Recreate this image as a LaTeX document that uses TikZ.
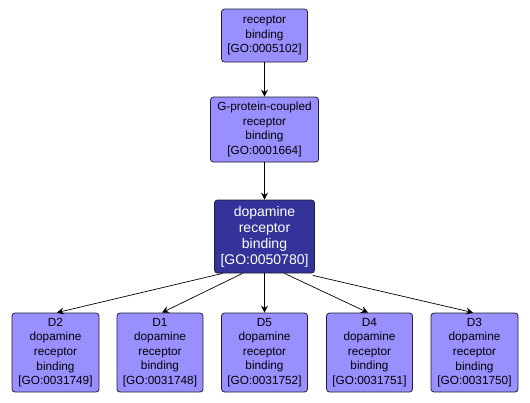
\documentclass[tikz,border=0pt]{standalone}
\usepackage{fontspec}
\setmainfont{Liberation Sans}
\usetikzlibrary{arrows.meta}
\definecolor{lightgo}{RGB}{153,143,255}
\definecolor{darkgo}{RGB}{51,51,153}
\definecolor{bordergo}{RGB}{30,30,50}
\tikzset{
  gobox/.style={draw=bordergo, line width=0.8pt, rounded corners=3pt, fill=lightgo,
    align=center, inner sep=0pt, font=\fontsize{11.8}{14.6}\selectfont, text=black},
  godark/.style={gobox, fill=darkgo, text=white, font=\fontsize{14}{16}\selectfont},
  goedge/.style={draw=black, line width=0.7pt, -{Stealth[length=7pt,width=7pt,inset=2.5pt]}}
}
\begin{document}
\begin{tikzpicture}[x=1pt,y=-1pt]
\useasboundingbox (0,0) rectangle (530,402);
\node[gobox, minimum width=86pt, minimum height=53pt] (rb) at (264.5,35.5) {receptor\\binding\\{[}GO:0005102{]}};
\node[gobox, minimum width=108pt, minimum height=65pt] (gpcr) at (264.5,129.5) {G-protein-coupled\\receptor\\binding\\{[}GO:0001664{]}};
\node[godark, minimum width=100pt, minimum height=73pt] (dop) at (264.5,236.5) {dopamine\\receptor\\binding\\{[}GO:0050780{]}};
\node[gobox, minimum width=87pt, minimum height=79pt] (d2) at (55.5,352.5) {D2\\dopamine\\receptor\\binding\\{[}GO:0031749{]}};
\node[gobox, minimum width=86pt, minimum height=79pt] (d1) at (160,352.5) {D1\\dopamine\\receptor\\binding\\{[}GO:0031748{]}};
\node[gobox, minimum width=86pt, minimum height=79pt] (d5) at (264.5,352.5) {D5\\dopamine\\receptor\\binding\\{[}GO:0031752{]}};
\node[gobox, minimum width=86pt, minimum height=79pt] (d4) at (369.5,352.5) {D4\\dopamine\\receptor\\binding\\{[}GO:0031751{]}};
\node[gobox, minimum width=87pt, minimum height=79pt] (d3) at (474.5,352.5) {D3\\dopamine\\receptor\\binding\\{[}GO:0031750{]}};
\draw[goedge] (rb.south) -- (gpcr.north);
\draw[goedge] (gpcr.south) -- (dop.north);
\draw[goedge] ([xshift=-42pt]dop.south) -- ([xshift=1.5pt]d2.north);
\draw[goedge] ([xshift=-22pt]dop.south) -- ([xshift=2pt]d1.north);
\draw[goedge] (dop.south) -- (d5.north);
\draw[goedge] ([xshift=20pt]dop.south) -- ([xshift=-1.5pt]d4.north);
\draw[goedge] ([xshift=-2pt,yshift=-2pt]dop.south east) -- ([xshift=-1.5pt]d3.north);
\end{tikzpicture}
\end{document}
